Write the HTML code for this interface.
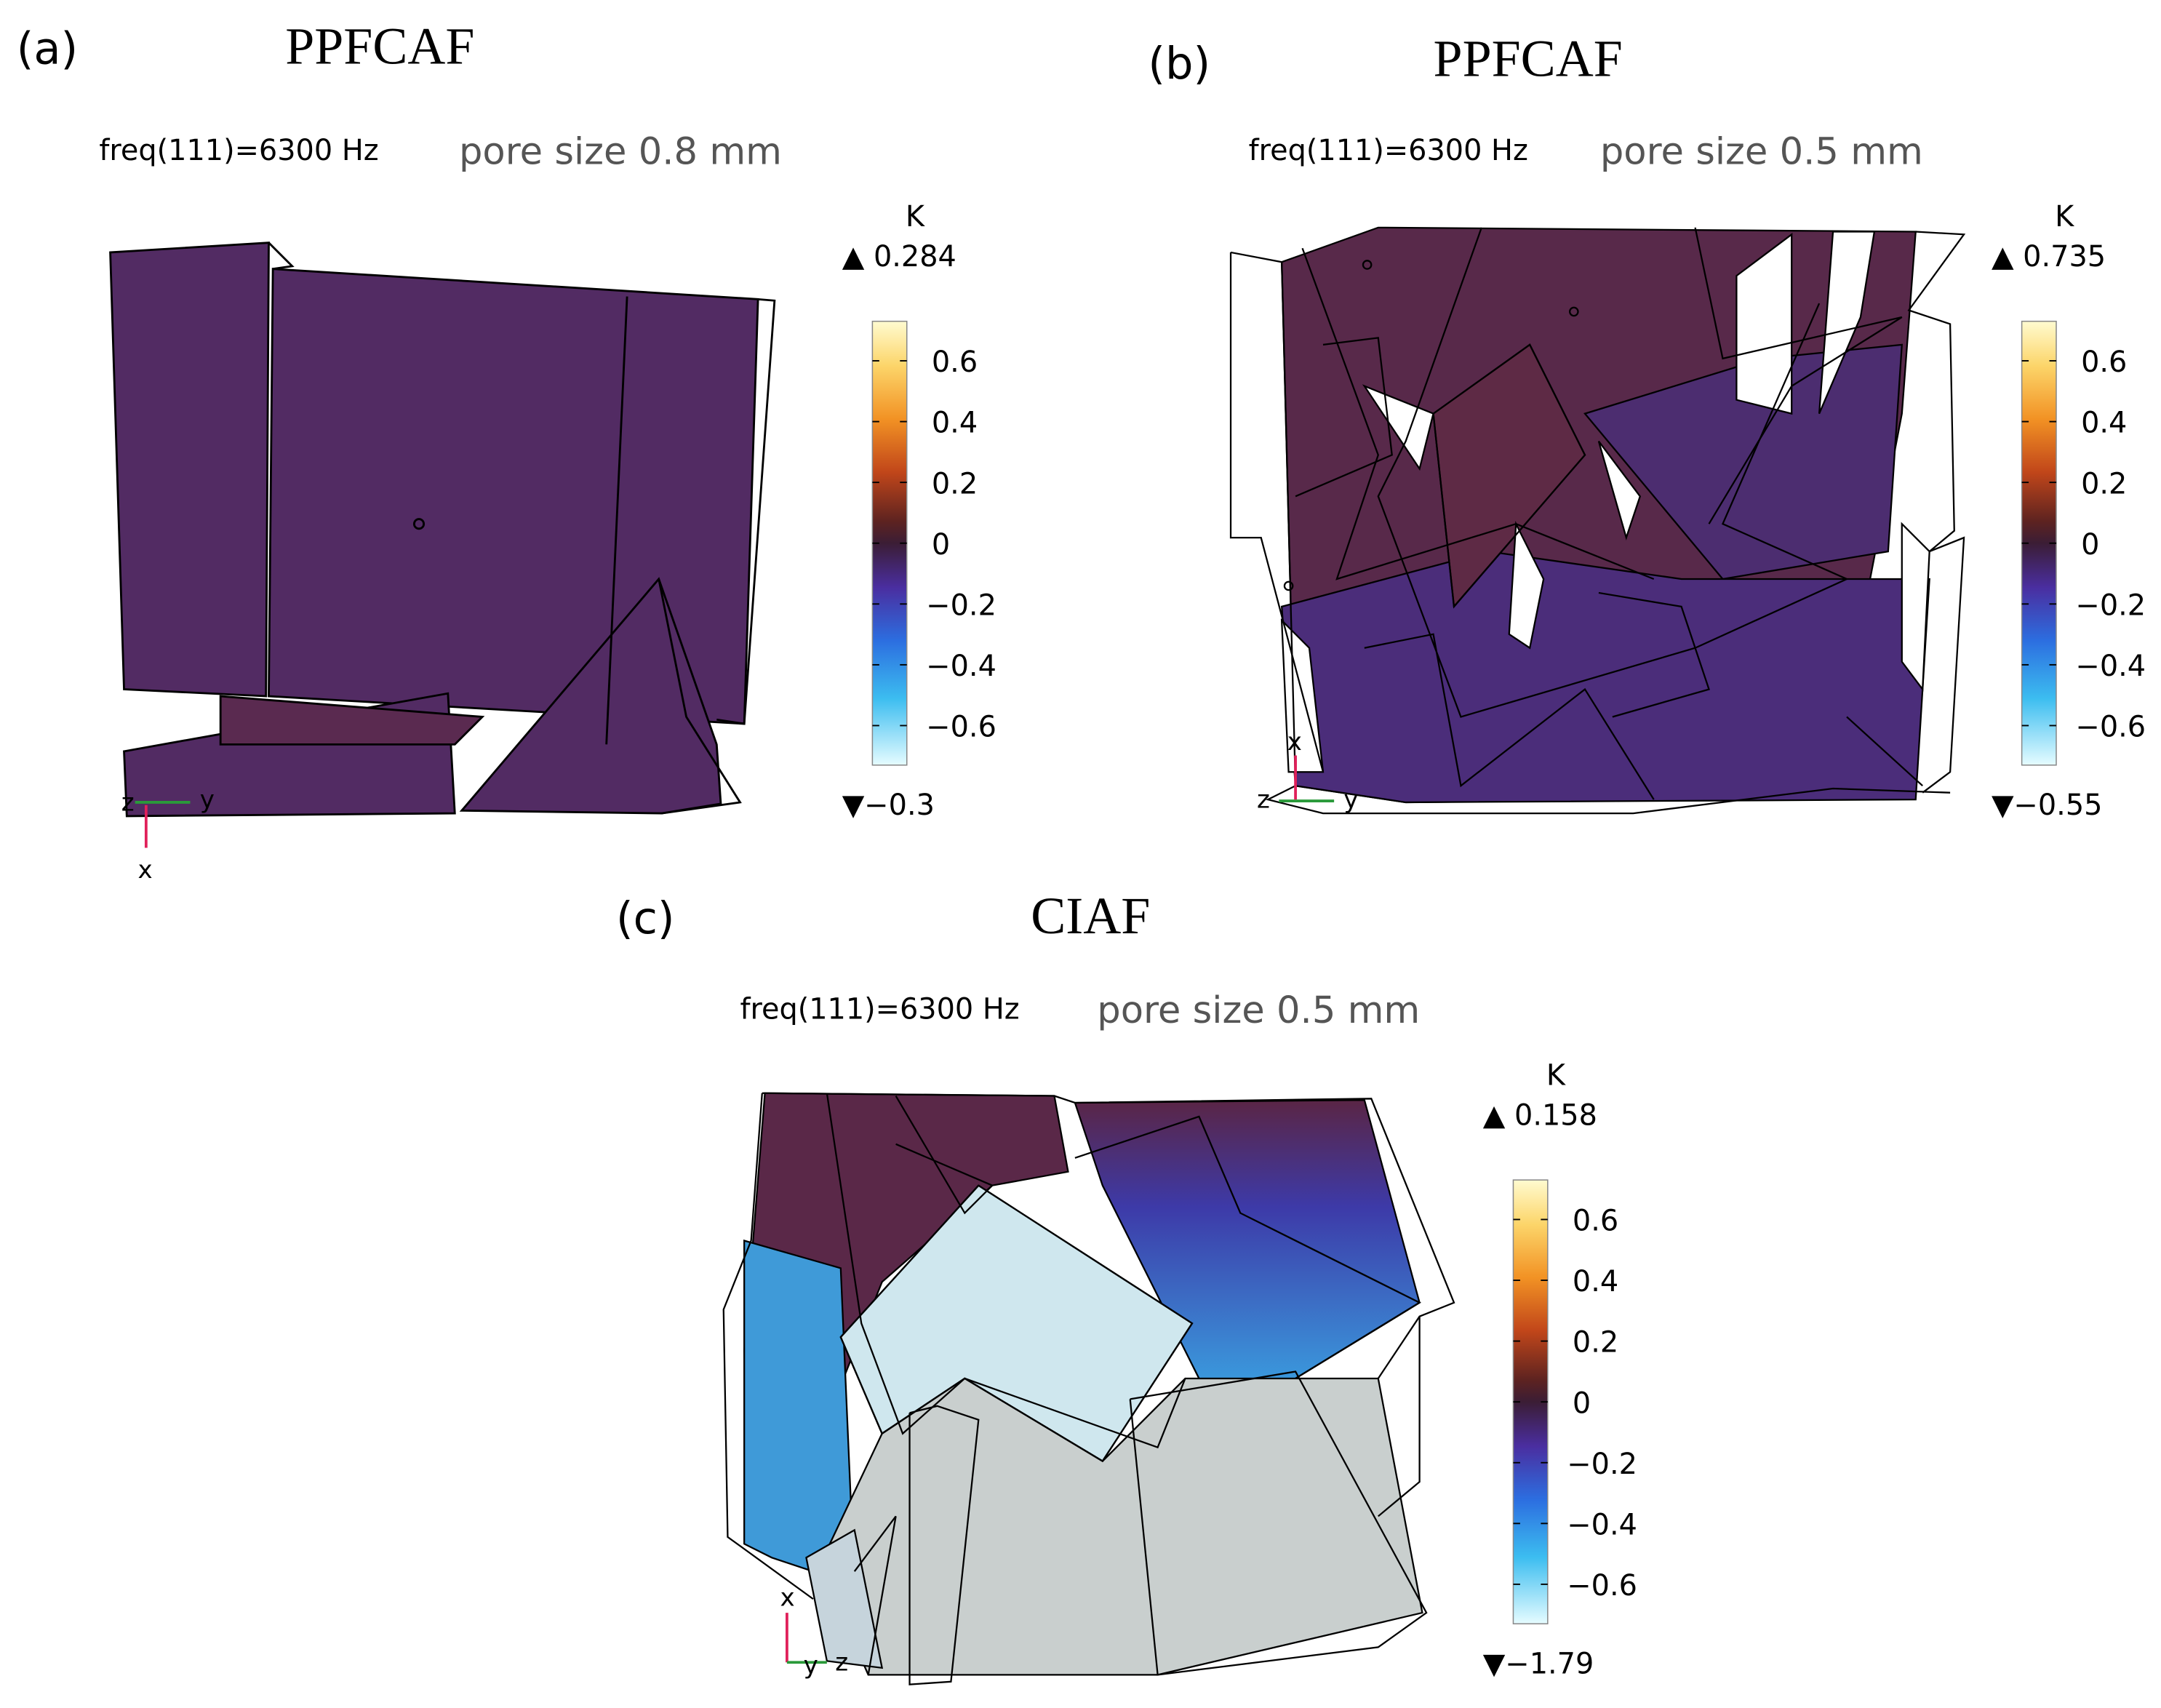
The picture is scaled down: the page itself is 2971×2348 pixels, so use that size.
<!DOCTYPE html>
<html><head><meta charset="utf-8"><style>
html,body{margin:0;padding:0;background:#fff;width:2971px;height:2348px;overflow:hidden}
svg{display:block}
.lab{font-family:"DejaVu Sans","Liberation Sans",sans-serif}
.ser{font-family:"Liberation Serif",serif}
</style></head><body>
<svg id="fig" width="2971" height="2348" viewBox="0 0 1568 1239" xmlns="http://www.w3.org/2000/svg">
<defs>
<linearGradient id="cb" x1="0" y1="0" x2="0" y2="1">
<stop offset="0" stop-color="#fffbd0"/><stop offset="0.1" stop-color="#fcd56a"/><stop offset="0.22" stop-color="#f29224"/>
<stop offset="0.34" stop-color="#c1461a"/><stop offset="0.45" stop-color="#5e2320"/><stop offset="0.5" stop-color="#3b1d35"/>
<stop offset="0.6" stop-color="#4a2ea0"/><stop offset="0.72" stop-color="#2c6ee0"/><stop offset="0.85" stop-color="#3cbdf0"/>
<stop offset="1" stop-color="#e6fcff"/></linearGradient>
<linearGradient id="cg" x1="0" y1="0" x2="0" y2="1"><stop offset="0" stop-color="#5a2545"/><stop offset="0.35" stop-color="#3d3aa8"/><stop offset="1" stop-color="#3aa6e4"/></linearGradient>
</defs>

<!-- panel a -->
<g>
<text class="lab" x="12" y="46" font-size="32">(a)</text>
<text class="ser" x="207" y="46" font-size="38">PPFCAF</text>
<text class="lab" x="72" y="116" font-size="21">freq(111)=6300 Hz</text>
<text class="lab" x="333" y="119" font-size="27" fill="#555">pore size 0.8 mm</text>
<g fill="#522b63" stroke="#000" stroke-width="1.5">
<polygon points="80,183 195,176 193,505 90,500"/>
<polygon points="198,195 550,217 540,525 195,505"/>
<polygon points="90,545 325,503 330,590 92,592"/>
<polygon points="335,588 478,420 520,540 523,583 480,590"/>
<polygon points="160,505 350,520 330,540 160,540" fill="#5a2a50"/>
<polyline points="195,176 212,193 198,195" fill="none"/>
<polyline points="550,217 562,218 540,525 520,522" fill="none"/>
<polyline points="455,215 440,540" fill="none"/>
<polyline points="478,420 498,520 537,582 480,590" fill="none"/>
<circle cx="304" cy="380" r="3.5" fill="none"/>
</g>
<g>
<line x1="98" y1="582" x2="138" y2="582" stroke="#2a9a3a" stroke-width="2"/>
<line x1="106" y1="584" x2="106" y2="615" stroke="#e0205a" stroke-width="2"/>
<text class="lab" x="88" y="588" font-size="18">z</text><text class="lab" x="145" y="586" font-size="18">y</text><text class="lab" x="100" y="637" font-size="18">x</text>
</g>
</g>

<!-- panel b -->
<g>
<text class="lab" x="833" y="57" font-size="32">(b)</text>
<text class="ser" x="1040" y="55" font-size="38">PPFCAF</text>
<text class="lab" x="906" y="116" font-size="21">freq(111)=6300 Hz</text>
<text class="lab" x="1161" y="119" font-size="27" fill="#555">pore size 0.5 mm</text>
<g stroke="#000" stroke-width="1.2">
<polygon points="930,190 1000,165 1390,168 1380,300 1330,560 1220,580 1020,582 940,570" fill="#58294a"/>
<polygon points="1150,300 1280,260 1380,250 1370,400 1250,420" fill="#4c2d70"/>
<polygon points="930,440 1080,400 1220,420 1400,420 1390,580 1020,582 940,570" fill="#4b2d7a"/>
<polygon points="1040,300 1110,250 1150,330 1055,440" fill="#5e2a45"/>
<polygon points="1330,168 1360,168 1350,230 1320,300" fill="#fff"/>
<polygon points="1260,200 1300,170 1300,300 1260,290" fill="#fff"/>
<polygon points="1100,380 1120,420 1110,470 1095,460" fill="#fff"/>
<polygon points="990,280 1040,300 1030,340" fill="#fff"/>
<polygon points="1160,320 1190,360 1180,390" fill="#fff"/>
<polygon points="930,450 950,470 960,560 935,560" fill="#fff"/>
<polygon points="1380,380 1400,400 1395,500 1380,480" fill="#fff"/>
<polyline points="893,183 930,190 940,570 920,580 960,590 1185,590 1330,572 1415,575" fill="none"/>
<polyline points="1390,168 1425,170 1385,225 1415,235 1418,385 1400,400 1425,390 1415,560 1395,575" fill="none"/>
<polyline points="893,183 893,390 915,390 960,560" fill="none"/>
<polyline points="1040,300 1110,250 1150,330 1055,440 1040,300" fill="none"/>
<polyline points="1075,165 1020,320 1000,360 1060,520 1230,470 1340,420 1250,380 1320,220" fill="none"/>
<polyline points="1230,165 1250,260 1380,230 1300,280 1240,380" fill="none"/>
<polyline points="960,250 1000,245 1010,330 940,360" fill="none"/>
<polyline points="990,470 1040,460 1060,570 1150,500 1200,580" fill="none"/>
<polyline points="1160,430 1220,440 1240,500 1170,520" fill="none"/>
<polyline points="1340,520 1395,570" fill="none"/>
<polyline points="945,180 1000,330 970,420 1100,380 1200,420" fill="none"/>
<circle cx="992" cy="192" r="3" fill="none"/><circle cx="1142" cy="226" r="3" fill="none"/><circle cx="935" cy="425" r="3" fill="none"/>
</g>
<g>
<line x1="928" y1="581" x2="968" y2="581" stroke="#2a9a3a" stroke-width="2"/>
<line x1="940" y1="580" x2="940" y2="548" stroke="#e0205a" stroke-width="2"/>
<text class="lab" x="912" y="586" font-size="18">z</text><text class="lab" x="975" y="586" font-size="18">y</text><text class="lab" x="934" y="544" font-size="18">x</text>
</g>
</g>

<!-- panel c -->
<g>
<text class="lab" x="447" y="677" font-size="32">(c)</text>
<text class="ser" x="748" y="677" font-size="38">CIAF</text>
<text class="lab" x="537" y="739" font-size="21">freq(111)=6300 Hz</text>
<text class="lab" x="796" y="742" font-size="27" fill="#555">pore size 0.5 mm</text>
<g stroke="#000" stroke-width="1.2">
<polygon points="555,793 765,795 775,850 720,860 640,930 600,1030 545,1120 540,980" fill="#5a2848"/>
<polygon points="780,800 990,798 1030,945 940,1000 880,1020 800,860" fill="url(#cg)"/>
<polygon points="540,900 610,920 620,1150 560,1130 540,1120" fill="#3f9ad8"/>
<polygon points="610,970 710,860 865,960 800,1060 700,1000 640,1040" fill="#cfe7ee"/>
<polygon points="640,1040 700,1000 800,1060 860,1000 1000,1000 1032,1170 840,1215 630,1215 595,1135" fill="#c9cfce"/>
<polygon points="585,1130 620,1110 640,1210 600,1205" fill="#c6d4dc"/>
<polyline points="553,793 765,795 780,800 995,797 1055,945 1030,955 1000,1000" fill="none"/>
<polyline points="553,793 545,900 525,950 528,1115 590,1160" fill="none"/>
<polyline points="600,793 625,960 655,1040 700,1000 840,1050 860,1000" fill="none"/>
<polyline points="710,860 865,960 800,1060 700,1000 640,1040 610,970 710,860" fill="none"/>
<polyline points="780,840 870,810 900,880 1030,945 940,1000" fill="none"/>
<polyline points="820,1015 940,995 1035,1170 1000,1195 840,1215 820,1015" fill="none"/>
<polyline points="660,1025 680,1020 710,1030 690,1220 660,1222 660,1025" fill="none"/>
<polyline points="620,1140 650,1100 630,1215" fill="none"/>
<polyline points="1030,955 1030,1075 1000,1100" fill="none"/>
<polyline points="650,795 700,880 720,860 650,830" fill="none"/>
</g>
<g>
<line x1="571" y1="1206" x2="571" y2="1170" stroke="#e0205a" stroke-width="2"/>
<line x1="571" y1="1206" x2="600" y2="1206" stroke="#2a9a3a" stroke-width="2"/>
<text class="lab" x="566" y="1165" font-size="18">x</text><text class="lab" x="583" y="1214" font-size="18">y</text><text class="lab" x="606" y="1212" font-size="18">z</text>
</g>
</g>

<g id="colorbars"></g>
</svg>
<script>
const tickValues = [0.6, 0.4, 0.2, 0, -0.2, -0.4, -0.6];
const tickLabels = ["0.6", "0.4", "0.2", "0", "\u22120.2", "\u22120.4", "\u22120.6"];
const cbMax = [0.284, 0.735, 0.158];
const cbMin = ["\u22120.3", "\u22120.55", "\u22121.79"];
const cbMaxLabel = ["0.284", "0.735", "0.158"];
const cbNames = ["a", "b", "c"];
const cbOrigin = [[633, 233], [1467, 233], [1098, 856]];
const NS = "http://www.w3.org/2000/svg";
const H = 322, W = 25, vTop = 0.73, vBot = -0.73;
function yScale(v) { return (vTop - v) / (vTop - vBot) * H; }
const root = document.getElementById('colorbars');
function mk(tag, attrs, parent) { const e = document.createElementNS(NS, tag); for (const k in attrs) e.setAttribute(k, attrs[k]); parent.appendChild(e); return e; }
cbNames.forEach((n, i) => {
  const [x0, y0] = cbOrigin[i];
  const g = mk('g', {}, root);
  
  
  const r = mk('rect', { x: x0, y: y0, width: W, height: H, fill: 'url(#cb)', stroke: '#888', 'stroke-width': 0.8 }, g);
  
  
  tickValues.forEach((v, j) => {
    const y = y0 + yScale(v);
    mk('line', { x1: x0, x2: x0 + 5, y1: y, y2: y, stroke: '#000', 'stroke-width': 1 }, g);
    mk('line', { x1: x0 + W - 5, x2: x0 + W, y1: y, y2: y, stroke: '#000', 'stroke-width': 1 }, g);
    const t = mk('text', { x: x0 + W + 14 - (tickLabels[j].startsWith('\u2212') ? 0 : -4), y: y + 8, 'font-size': 21, class: 'lab' }, g);
    
    
    t.textContent = tickLabels[j];
  });
  const k = mk('text', { x: x0 + 24, y: y0 - 69, 'font-size': 21, class: 'lab' }, g);
  
  
  k.textContent = 'K';
  const mx = mk('text', { x: x0 - 22, y: y0 - 40, 'font-size': 21, class: 'lab' }, g);
  
  
  mx.textContent = '\u25B2 ' + cbMaxLabel[i];
  const mn = mk('text', { x: x0 - 22, y: y0 + H + 36, 'font-size': 21, class: 'lab' }, g);
  
  
  mn.textContent = '\u25BC' + cbMin[i];
});
</script>
</body></html>
